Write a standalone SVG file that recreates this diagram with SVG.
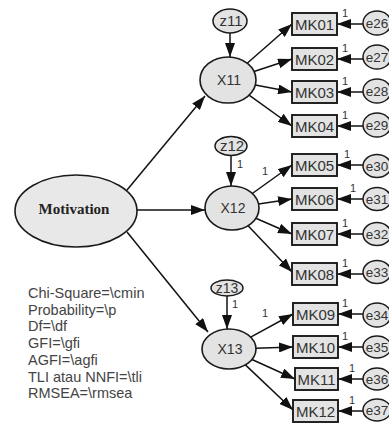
<svg xmlns="http://www.w3.org/2000/svg" width="389" height="425" viewBox="0 0 389 425">
<style>
.bg{fill:#ffffff}
.lat{fill:#e3e3e3;stroke:#1a1a1a;stroke-width:1.6}
.obs{fill:#e3e3e3;stroke:#1a1a1a;stroke-width:1.9}
.err{fill:#e3e3e3;stroke:#1a1a1a;stroke-width:1.5}
.t{font-family:"Liberation Sans",Arial,sans-serif;fill:#333333;text-anchor:middle}
.lbl{font-size:15px}
.el{font-size:13.5px}
.x{font-size:14px}
.one{font-family:"Liberation Sans",Arial,sans-serif;font-size:11px;fill:#333333}
.mot{font-family:"Liberation Serif","Times New Roman",serif;font-size:15px;font-weight:bold;fill:#222222;text-anchor:middle}
.fit{font-family:"Liberation Sans",Arial,sans-serif;font-size:14.5px;fill:#444444}
.c line{stroke:#111111;stroke-width:1.5;marker-end:url(#ah)}
</style>
<defs>
<marker id="ah" viewBox="0 0 14 10" refX="14" refY="5" markerWidth="14" markerHeight="10" markerUnits="userSpaceOnUse" orient="auto">
<path d="M0,0 L14,5 L0,10 z" fill="#111111"/>
</marker>
</defs>
<rect class="bg" x="0" y="0" width="389" height="425"/>

<g id="connectors" class="c">
<line x1="127" y1="190" x2="205" y2="96"/>
<line x1="137" y1="210" x2="205" y2="210"/>
<line x1="127" y1="232" x2="208" y2="332"/>
<line x1="230" y1="33" x2="230" y2="57"/>
<line x1="231" y1="155" x2="231" y2="186"/>
<line x1="227" y1="296" x2="227" y2="329"/>
<line x1="247.2" y1="63.2" x2="292" y2="24"/>
<line x1="254" y1="71.5" x2="292" y2="59"/>
<line x1="255.3" y1="85.1" x2="292" y2="92"/>
<line x1="249.1" y1="95.1" x2="292" y2="126"/>
<line x1="252.3" y1="193.5" x2="292" y2="165"/>
<line x1="258.6" y1="204" x2="292" y2="199"/>
<line x1="255.8" y1="218.3" x2="292" y2="234"/>
<line x1="248.1" y1="225.7" x2="292" y2="272"/>
<line x1="250.7" y1="337.1" x2="293" y2="314"/>
<line x1="256" y1="348.2" x2="293" y2="347"/>
<line x1="252" y1="359.5" x2="295" y2="379"/>
<line x1="245.4" y1="364.9" x2="293" y2="410"/>
<line x1="363" y1="24" x2="337" y2="24"/>
<line x1="363" y1="59" x2="337" y2="59"/>
<line x1="363" y1="92" x2="337" y2="92"/>
<line x1="363" y1="126" x2="337" y2="126"/>
<line x1="363" y1="165" x2="337" y2="165"/>
<line x1="363" y1="199" x2="337" y2="199"/>
<line x1="363" y1="234" x2="337" y2="234"/>
<line x1="363" y1="274" x2="337" y2="274"/>
<line x1="363" y1="314" x2="338" y2="314"/>
<line x1="363" y1="347" x2="338" y2="347"/>
<line x1="363" y1="379" x2="338" y2="379"/>
<line x1="363" y1="411" x2="338" y2="411"/>
</g>

<g id="path-labels">
<text class="one" x="342" y="17">1</text>
<text class="one" x="342" y="52">1</text>
<text class="one" x="342" y="85">1</text>
<text class="one" x="342" y="119">1</text>
<text class="one" x="344" y="158">1</text>
<text class="one" x="350" y="192">1</text>
<text class="one" x="342" y="227">1</text>
<text class="one" x="342" y="267">1</text>
<text class="one" x="342" y="307">1</text>
<text class="one" x="342" y="340">1</text>
<text class="one" x="349" y="372">1</text>
<text class="one" x="349" y="404">1</text>
<text class="one" x="262" y="175">1</text>
<text class="one" x="262" y="317">1</text>
<text class="one" x="237" y="168">1</text>
<text class="one" x="232" y="308">1</text>
</g>

<g id="Motivation"><ellipse class="lat" cx="76" cy="211" rx="61" ry="36" style="fill:#e8e8e8"/><text class="mot" x="74" y="214">Motivation</text></g>

<g id="X11"><ellipse class="lat" cx="228" cy="80" rx="28" ry="23"/><text class="t x" x="229" y="85">X11</text></g>
<g id="X12"><ellipse class="lat" cx="232" cy="208" rx="27" ry="22"/><text class="t x" x="233" y="213">X12</text></g>
<g id="X13"><ellipse class="lat" cx="229" cy="349" rx="27" ry="20"/><text class="t x" x="230" y="354">X13</text></g>

<g id="z11"><ellipse class="err" cx="230" cy="21" rx="17" ry="12"/><text class="t lbl" x="231" y="26">z11</text></g>
<g id="z12"><ellipse class="err" cx="231" cy="146" rx="16" ry="9.5"/><text class="t lbl" x="232" y="151">z12</text></g>
<g id="z13"><ellipse class="err" cx="227" cy="288" rx="16" ry="8"/><text class="t" style="font-size:14px" x="227" y="293">z13</text></g>

<g id="MK01"><rect class="obs" x="292" y="13" width="45" height="22"/><text class="t lbl" x="314.5" y="29.5">MK01</text></g>
<g id="MK02"><rect class="obs" x="292" y="48" width="45" height="22"/><text class="t lbl" x="314.5" y="64.5">MK02</text></g>
<g id="MK03"><rect class="obs" x="292" y="81" width="45" height="22"/><text class="t lbl" x="314.5" y="97.5">MK03</text></g>
<g id="MK04"><rect class="obs" x="292" y="115" width="45" height="22"/><text class="t lbl" x="314.5" y="131.5">MK04</text></g>
<g id="MK05"><rect class="obs" x="292" y="154" width="45" height="22"/><text class="t lbl" x="314.5" y="170.5">MK05</text></g>
<g id="MK06"><rect class="obs" x="292" y="188" width="45" height="22"/><text class="t lbl" x="314.5" y="204.5">MK06</text></g>
<g id="MK07"><rect class="obs" x="292" y="223" width="45" height="22"/><text class="t lbl" x="314.5" y="239.5">MK07</text></g>
<g id="MK08"><rect class="obs" x="292" y="263" width="45" height="22"/><text class="t lbl" x="314.5" y="279.5">MK08</text></g>
<g id="MK09"><rect class="obs" x="293" y="303" width="45" height="22"/><text class="t lbl" x="315.5" y="319.5">MK09</text></g>
<g id="MK10"><rect class="obs" x="293" y="336" width="45" height="22"/><text class="t lbl" x="315.5" y="352.5">MK10</text></g>
<g id="MK11"><rect class="obs" x="295" y="368" width="43" height="22"/><text class="t lbl" x="316.5" y="384.5">MK11</text></g>
<g id="MK12"><rect class="obs" x="293" y="400" width="45" height="22"/><text class="t lbl" x="315.5" y="416.5">MK12</text></g>

<g id="e26"><ellipse class="err" cx="377" cy="23" rx="14" ry="12"/><text class="t el" x="377" y="28">e26</text></g>
<g id="e27"><ellipse class="err" cx="377" cy="57" rx="14" ry="12"/><text class="t el" x="377" y="62">e27</text></g>
<g id="e28"><ellipse class="err" cx="377" cy="91" rx="14" ry="12"/><text class="t el" x="377" y="96">e28</text></g>
<g id="e29"><ellipse class="err" cx="377" cy="125" rx="14" ry="12"/><text class="t el" x="377" y="130">e29</text></g>
<g id="e30"><ellipse class="err" cx="377" cy="166" rx="14" ry="11.5"/><text class="t el" x="377" y="171">e30</text></g>
<g id="e31"><ellipse class="err" cx="377" cy="199" rx="14" ry="11.5"/><text class="t el" x="377" y="204">e31</text></g>
<g id="e32"><ellipse class="err" cx="377" cy="234" rx="14" ry="11.5"/><text class="t el" x="377" y="239">e32</text></g>
<g id="e33"><ellipse class="err" cx="377" cy="272" rx="14" ry="11.5"/><text class="t el" x="377" y="277">e33</text></g>
<g id="e34"><ellipse class="err" cx="377" cy="315" rx="14" ry="12"/><text class="t el" x="377" y="320">e34</text></g>
<g id="e35"><ellipse class="err" cx="377" cy="347" rx="14" ry="11"/><text class="t el" x="377" y="352">e35</text></g>
<g id="e36"><ellipse class="err" cx="377" cy="379" rx="14" ry="11"/><text class="t el" x="377" y="384">e36</text></g>
<g id="e37"><ellipse class="err" cx="377" cy="410" rx="14" ry="11"/><text class="t el" x="377" y="415">e37</text></g>

<g id="fit-indices">
<text class="fit" x="28" y="298">Chi-Square=\cmin</text>
<text class="fit" x="28" y="314.5">Probability=\p</text>
<text class="fit" x="28" y="331">Df=\df</text>
<text class="fit" x="28" y="348">GFI=\gfi</text>
<text class="fit" x="28" y="365">AGFI=\agfi</text>
<text class="fit" x="28" y="381.5">TLI atau NNFI=\tli</text>
<text class="fit" x="28" y="398">RMSEA=\rmsea</text>
</g>
</svg>
